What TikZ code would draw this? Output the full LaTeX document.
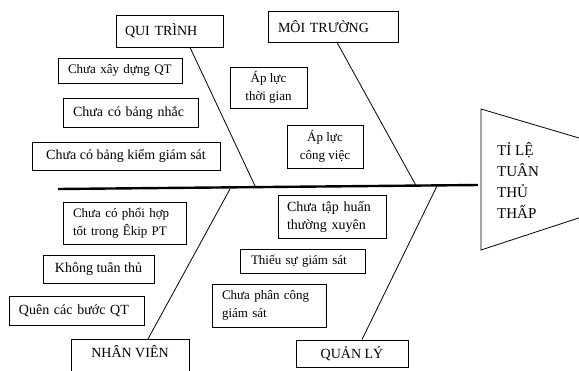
\documentclass[tikz,border=0pt]{standalone}
\usepackage{fontspec}
\setmainfont{Liberation Serif}
\begin{document}
\begin{tikzpicture}[x=1pt,y=-1pt,
  box/.style={draw, line width=0.8pt, inner sep=0pt, font=\fontsize{14}{18}\selectfont},
  sm/.style={font=\fontsize{13}{18}\selectfont},
  bone/.style={line width=0.8pt},
  spine/.style={line width=2.4pt}]
\clip (0,0) rectangle (579,370);
% cause categories
\node[box, text width=89pt, inner xsep=9pt, minimum height=32pt, align=left] (QT) at (169.5,31) {QUI TRÌNH};
\node[box, text width=110pt, inner xsep=10pt, minimum height=31pt, align=left] (MT) at (333,26.5) {MÔI TRƯỜNG};
\node[box, anchor=north, minimum width=118pt, text height=12pt, text depth=22pt, inner ysep=6pt] (NV) at (130,339) {NHÂN VIÊN};
\node[box, minimum width=112pt, minimum height=27pt] (QL) at (352,353.5) {QUẢN LÝ};
% causes
\node[box, sm, text width=104pt, inner xsep=10pt, minimum height=25pt, align=left] (q1) at (120,70.5) {Chưa xây dựng QT};
\node[box, text width=115pt, inner xsep=10pt, minimum height=29pt, align=left] (q2) at (130.5,112.5) {Chưa có bảng nhắc};
\node[box, minimum width=188pt, minimum height=28pt] (q3) at (126,156) {Chưa có bảng kiểm giám sát};
\node[box, sm, minimum width=77pt, minimum height=41pt, align=center] (a1) at (268.5,87.5) {Áp lực\\thời gian};
\node[box, sm, minimum width=76pt, minimum height=43pt, align=center] (a2) at (325,146.5) {Áp lực\\công việc};
\node[box, sm, text width=103pt, inner xsep=10pt, minimum height=42pt, align=left] (n1) at (124.5,223) {Chưa có phối hợp\\tốt trong Êkip PT};
\node[box, minimum width=111pt, minimum height=28pt] (n2) at (98.5,269) {Không tuân thủ};
\node[box, text width=115pt, inner xsep=10pt, minimum height=29pt, align=left] (n3) at (76.5,310.5) {Quên các bước QT};
\node[box, text width=90pt, inner xsep=9pt, minimum height=43pt, align=left] (m1) at (332,216.5) {Chưa tập huấn\\thường xuyên};
\node[box, sm, text width=103pt, inner xsep=11pt, minimum height=24pt, align=left] (m2) at (302.5,261) {Thiếu sự giám sát};
\node[box, sm, text width=94pt, inner xsep=10pt, minimum height=43pt, align=left] (m3) at (269,305.5) {Chưa phân công\\giám sát};
% head
\draw[line width=0.8pt] (481,109) -- (600,144.2) -- (600,211) -- (481,250) -- cycle;
\node[font=\fontsize{15}{21}\selectfont, align=left, anchor=west, inner sep=0pt] (hd) at (497,181) {TỈ LỆ\\TUÂN\\THỦ\\THẤP};
% spine and bones
\coordinate (sL) at (58,189);
\coordinate (sR) at (478,185);
\coordinate (b1) at (256,188);
\coordinate (b2) at (416,185.5);
\coordinate (b3) at (230,189);
\coordinate (b4) at (437,186);
\draw[spine] (sL) -- (sR);
\draw[bone] ([xshift=20.5pt]QT.south) -- (b1);
\draw[bone] ([xshift=4pt]MT.south) -- (b2);
\draw[bone] (b3) -- ([xshift=18pt]NV.north);
\draw[bone] (b4) -- ([xshift=10pt]QL.north);
\end{tikzpicture}
\end{document}
